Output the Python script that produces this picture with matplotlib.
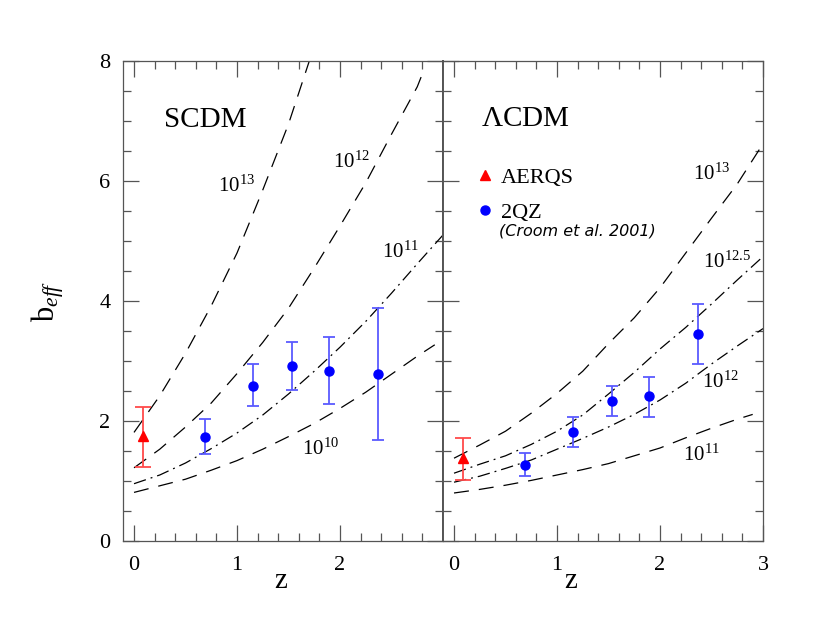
import matplotlib
matplotlib.use('Agg')
import matplotlib.pyplot as plt
from matplotlib.ticker import MultipleLocator

plt.rcParams['font.family'] = 'Liberation Serif'
plt.rcParams['mathtext.fontset'] = 'custom'
plt.rcParams['mathtext.rm'] = 'Liberation Serif'
plt.rcParams['mathtext.it'] = 'Liberation Serif:italic'

######## data
# model curves, SCDM
z13_s = [0, 0.25, 0.5, 0.75, 1.0, 1.25, 1.5, 1.75]
b13_s = [1.81, 2.42, 3.13, 3.92, 4.80, 5.85, 6.95, 8.25]
z12_s = [0, 0.25, 0.5, 0.75, 1.0, 1.25, 1.5, 1.75, 2.0, 2.25, 2.5, 2.75, 2.81]
b12_s = [1.22, 1.53, 1.90, 2.30, 2.79, 3.31, 3.88, 4.55, 5.25, 5.97, 6.78, 7.57, 7.83]
z11_s = [0, 0.25, 0.5, 0.75, 1.0, 1.25, 1.5, 1.75, 2.0, 2.25, 2.5, 2.75, 3.0]
b11_s = [0.955, 1.10, 1.30, 1.54, 1.80, 2.10, 2.45, 2.83, 3.23, 3.66, 4.13, 4.62, 5.10]
z10_s = [0, 0.25, 0.5, 0.75, 1.0, 1.25, 1.5, 1.75, 2.0, 2.25, 2.5, 2.75, 2.92]
b10_s = [0.81, 0.92, 1.03, 1.18, 1.34, 1.53, 1.74, 1.96, 2.21, 2.48, 2.78, 3.08, 3.27]

# model curves, LCDM
z_l = [0, 0.25, 0.5, 0.75, 1.0, 1.25, 1.5, 1.75, 2.0, 2.25, 2.5, 2.75, 3.0]
b13_l = [1.38, 1.60, 1.83, 2.13, 2.46, 2.83, 3.29, 3.72, 4.22, 4.80, 5.38, 5.95, 6.62]
b125_l = [1.13, 1.28, 1.42, 1.61, 1.83, 2.10, 2.45, 2.81, 3.20, 3.56, 3.95, 4.35, 4.74]
b12_l = [0.98, 1.08, 1.21, 1.35, 1.53, 1.71, 1.90, 2.11, 2.35, 2.63, 2.95, 3.25, 3.54]
z11_l = [0, 0.25, 0.5, 0.75, 1.0, 1.25, 1.5, 1.75, 2.0, 2.25, 2.5, 2.75, 2.9]
b11_l = [0.80, 0.86, 0.93, 1.01, 1.10, 1.19, 1.29, 1.42, 1.55, 1.72, 1.88, 2.03, 2.11]

# 2QZ points
qz = [0.69, 1.16, 1.53, 1.89, 2.37]
qb_s = [1.74, 2.59, 2.92, 2.84, 2.78]
qhi_s = [2.03, 2.95, 3.31, 3.40, 3.88]
qlo_s = [1.455, 2.25, 2.52, 2.29, 1.68]
qb_l = [1.27, 1.82, 2.33, 2.41, 3.455]
qhi_l = [1.47, 2.06, 2.58, 2.74, 3.95]
qlo_l = [1.08, 1.57, 2.08, 2.07, 2.95]

# AERQS point
az = [0.09]
ab_s = [1.755]; ahi_s = [2.24]; alo_s = [1.23]
ab_l = [1.38]; ahi_l = [1.71]; alo_l = [1.02]

dash = (12, 8)
dashdot = (10, 4, 1.5, 4)
fc = '#555555'

fig = plt.figure(figsize=(8.3, 6.43), dpi=100)
axL = fig.add_axes([123/830, 1-541/643, 320/830, 480/643])
axR = fig.add_axes([443/830, 1-541/643, 320/830, 480/643])

for ax in (axL, axR):
    ax.set_xlim(-0.107, 3.0)
    ax.set_ylim(0, 8)
    ax.set_xticks([0, 1, 2, 3])
    ax.set_yticks([0, 2, 4, 6, 8])
    ax.xaxis.set_minor_locator(MultipleLocator(0.2))
    ax.yaxis.set_minor_locator(MultipleLocator(0.5))
    ax.tick_params(which='both', direction='in', top=True, right=True,
                   color=fc, width=0.9, labelsize=16)
    ax.tick_params(which='major', length=11.5)
    ax.tick_params(which='minor', length=5.8)
    ax.tick_params(axis='x', pad=11)
    ax.tick_params(axis='y', pad=9)
    for s in ax.spines.values():
        s.set_color(fc)
        s.set_linewidth(0.9)
axL.spines['right'].set_linewidth(1.4)
axR.spines['left'].set_linewidth(1.4)

axL.set_xticklabels(['0', '1', '2', ''])
axR.set_yticklabels([])

####### SCDM panel
axL.plot(z13_s, b13_s, 'k', lw=0.9, dashes=dash)
axL.plot(z12_s, b12_s, 'k', lw=0.9, dashes=dash)
axL.plot(z11_s, b11_s, 'k', lw=0.9, dashes=dashdot)
axL.plot(z10_s, b10_s, 'k', lw=0.9, dashes=dash)

####### LCDM panel
axR.plot(z_l, b13_l, 'k', lw=0.9, dashes=dash)
axR.plot(z_l, b125_l, 'k', lw=0.9, dashes=dashdot)
axR.plot(z_l, b12_l, 'k', lw=0.9, dashes=dashdot)
axR.plot(z11_l, b11_l, 'k', lw=0.9, dashes=dash)

def points(ax, qb, qlo, qhi, ab, alo, ahi):
    ax.errorbar(qz, qb, yerr=[[b - l for b, l in zip(qb, qlo)], [h - b for b, h in zip(qb, qhi)]],
                fmt='none', ecolor='#5a5aff', elinewidth=1.3, capsize=4, capthick=1.3)
    ax.errorbar(az, ab, yerr=[[b - l for b, l in zip(ab, alo)], [h - b for b, h in zip(ab, ahi)]],
                fmt='none', ecolor='#ff4a4a', elinewidth=1.3, capsize=5.5, capthick=1.3)
    h1, = ax.plot(az, ab, '^', color='red', ms=7, mec='red', ls='none')
    h2, = ax.plot(qz, qb, 'o', color='blue', ms=6.5, mec='blue', ls='none')
    return h1, h2

points(axL, qb_s, qlo_s, qhi_s, ab_s, alo_s, ahi_s)
h1, h2 = points(axR, qb_l, qlo_l, qhi_l, ab_l, alo_l, ahi_l)

####### labels
axL.text(0.69, 7.02, 'SCDM', fontsize=21, ha='center', va='center')
axR.text(0.69, 7.04, r'$\Lambda$CDM', fontsize=21, ha='center', va='center')

lab = dict(fontsize=15, ha='center', va='center')
axL.text(1.0, 5.92, r'$10^{13}$', **lab)
axL.text(2.11, 6.31, r'$10^{12}$', **lab)
axL.text(2.59, 4.82, r'$10^{11}$', **lab)
axL.text(1.81, 1.53, r'$10^{10}$', **lab)
axR.text(2.50, 6.12, r'$10^{13}$', **lab)
axR.text(2.65, 4.64, r'$10^{12.5}$', **lab)
axR.text(2.59, 2.64, r'$10^{12}$', **lab)
axR.text(2.40, 1.43, r'$10^{11}$', **lab)

axR.legend([h1, h2], ['AERQS', '2QZ'], loc='upper left', bbox_to_anchor=(0.097, 0.779),
           frameon=False, fontsize=16, handlelength=1.0, handletextpad=0.2,
           borderpad=0, borderaxespad=0, labelspacing=0.67, numpoints=1)
axR.text(0.44, 5.16, '(Croom et al. 2001)', fontsize=11.5, style='italic',
         family='DejaVu Sans', ha='left', va='center')

axL.text(0.494, -0.083, 'z', transform=axL.transAxes, fontsize=21, ha='center', va='center')
axR.text(0.40, -0.083, 'z', transform=axR.transAxes, fontsize=21, ha='center', va='center')
axL.text(-0.235, 0.5, r'$\mathrm{b}_{eff}$', transform=axL.transAxes, fontsize=22,
         rotation=90, ha='center', va='center')

fig.savefig('out.png', dpi=100)
